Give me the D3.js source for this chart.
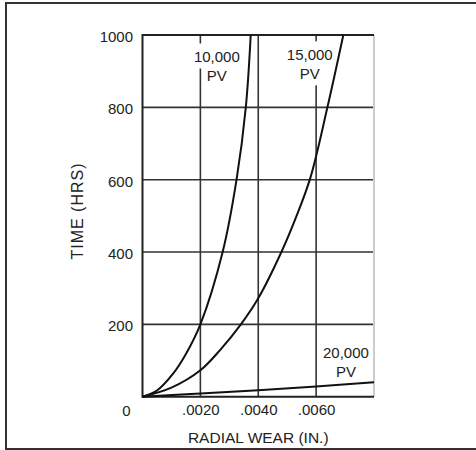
<!DOCTYPE html>
<html>
<head>
<meta charset="utf-8">
<script src="https://cdn.jsdelivr.net/npm/d3@7"></script>
<style>
  body { margin: 0; background: #fff; }
  svg { display: block; font-family: "Liberation Sans", Arial, sans-serif; }
</style>
</head>
<body>
<div id="chart"></div>
<script>
// radial wear (in.) vs time (hrs) for three PV levels
var wear10k = [0, 0.0005, 0.00107, 0.0015, 0.002, 0.00277, 0.00325, 0.00357, 0.00374];
var time10k = [0, 17, 65, 118, 200, 400, 600, 800, 1000];

var wear15k = [0, 0.001, 0.002, 0.00268, 0.0034, 0.004, 0.0048, 0.0053, 0.0058, 0.00639, 0.00694];
var time15k = [0, 25, 73, 129, 200, 272, 400, 495, 605, 800, 1000];

var wear20k = [0, 0.002, 0.004, 0.006, 0.008];
var time20k = [0, 9, 18, 28, 40];

var xTicks = [0.002, 0.004, 0.006];
var xTickLabels = [".0020", ".0040", ".0060"];
var yTicks = [200, 400, 600, 800, 1000];

var curveLabels = [
  { lines: ["10,000", "PV"], wear: 0.00257, time: 924 },
  { lines: ["15,000", "PV"], wear: 0.00578, time: 930 },
  { lines: ["20,000", "PV"], wear: 0.00703, time: 107 }
];

var width = 476, height = 450;
var margin = { top: 35, left: 142.5, right: 102, bottom: 53.3 };

var svg = d3.select("#chart").append("svg")
  .attr("width", width)
  .attr("height", height);

// outer frame (right edge runs off the picture)
svg.append("rect")
  .attr("x", 6).attr("y", 3)
  .attr("width", 490).attr("height", 446)
  .attr("fill", "none")
  .attr("stroke", "#333")
  .attr("stroke-width", 2);

var x = d3.scaleLinear().domain([0, 0.008]).range([margin.left, width - margin.right]);
var y = d3.scaleLinear().domain([0, 1000]).range([height - margin.bottom, margin.top]);

var grid = svg.append("g");

// horizontal grid
grid.selectAll(".hg")
  .data([200, 400, 600, 800])
  .enter().append("line")
  .attr("x1", x(0)).attr("x2", x(0.008))
  .attr("y1", function(d){ return y(d); })
  .attr("y2", function(d){ return y(d); })
  .attr("stroke", "#333")
  .attr("stroke-width", 1.6);

// vertical grid
grid.selectAll(".vg")
  .data(xTicks)
  .enter().append("line")
  .attr("x1", function(d){ return x(d); })
  .attr("x2", function(d){ return x(d); })
  .attr("y1", y(0)).attr("y2", y(1000))
  .attr("stroke", "#333")
  .attr("stroke-width", 1.6);

// right edge light
svg.append("line")
  .attr("x1", x(0.008)).attr("x2", x(0.008))
  .attr("y1", y(0)).attr("y2", y(1000))
  .attr("stroke", "#ccc")
  .attr("stroke-width", 2);

// frame of plot: left, top, bottom
svg.append("path")
  .attr("d", "M" + x(0.008) + "," + y(1000) + "H" + x(0) + "V" + y(0) + "H" + x(0.008))
  .attr("fill", "none")
  .attr("stroke", "#222")
  .attr("stroke-width", 2);

// curve labels, with knockouts where they sit on a grid line
var labelG = svg.append("g");
curveLabels.forEach(function(l) {
  l.lines.forEach(function(s, i) {
    var t = labelG.append("text")
      .attr("x", x(l.wear))
      .attr("y", y(l.time) + i * 19)
      .attr("text-anchor", "middle")
      .attr("font-size", 15)
      .attr("fill", "#222")
      .text(s);
    var b = t.node().getBBox();
    xTicks.forEach(function(v) {
      var gx = x(v);
      if (gx > b.x && gx < b.x + b.width && b.y < y(800)) {
        labelG.insert("rect", "text")
          .attr("x", gx - 2).attr("width", 4)
          .attr("y", b.y - 5).attr("height", b.height + 8)
          .attr("fill", "#fff");
      }
    });
  });
});

// curves
var line = d3.line()
  .x(function(d){ return x(d[0]); })
  .y(function(d){ return y(d[1]); })
  .curve(d3.curveCatmullRom.alpha(0.5));

[[wear10k, time10k], [wear15k, time15k], [wear20k, time20k]].forEach(function(s) {
  svg.append("path")
    .datum(d3.zip(s[0], s[1]))
    .attr("d", line)
    .attr("fill", "none")
    .attr("stroke", "#111")
    .attr("stroke-width", 2);
});

// axes
var xAxis = svg.append("g")
  .attr("transform", "translate(0," + y(0) + ")")
  .call(d3.axisBottom(x).tickValues(xTicks).tickSize(0).tickPadding(8)
    .tickFormat(function(d, i){ return xTickLabels[i]; }));
xAxis.select(".domain").remove();
xAxis.selectAll("text").attr("font-size", 15).attr("fill", "#222")
  .attr("font-family", null).attr("dy", "0.71em").attr("y", 8);

var yAxis = svg.append("g")
  .attr("transform", "translate(" + x(0) + ",0)")
  .call(d3.axisLeft(y).tickValues(yTicks).tickSize(0).tickPadding(9.5)
    .tickFormat(d3.format("d")));
yAxis.select(".domain").remove();
yAxis.selectAll("text").attr("font-size", 15).attr("fill", "#222")
  .attr("font-family", null).attr("dy", "0.43em");

// shared zero at the corner
svg.append("text")
  .attr("x", x(0) - 12)
  .attr("y", y(0) + 19)
  .attr("text-anchor", "end")
  .attr("font-size", 15)
  .attr("fill", "#222")
  .text("0");

// axis titles
svg.append("text")
  .attr("x", (x(0) + x(0.008)) / 2)
  .attr("y", 442.5)
  .attr("text-anchor", "middle")
  .attr("font-size", 15.5)
  .attr("fill", "#222")
  .text("RADIAL WEAR (IN.)");

svg.append("text")
  .attr("transform", "translate(83," + 211 + ") rotate(-90)")
  .attr("text-anchor", "middle")
  .attr("font-size", 16)
  .attr("letter-spacing", 1)
  .attr("fill", "#222")
  .text("TIME (HRS)");
</script>
</body>
</html>
